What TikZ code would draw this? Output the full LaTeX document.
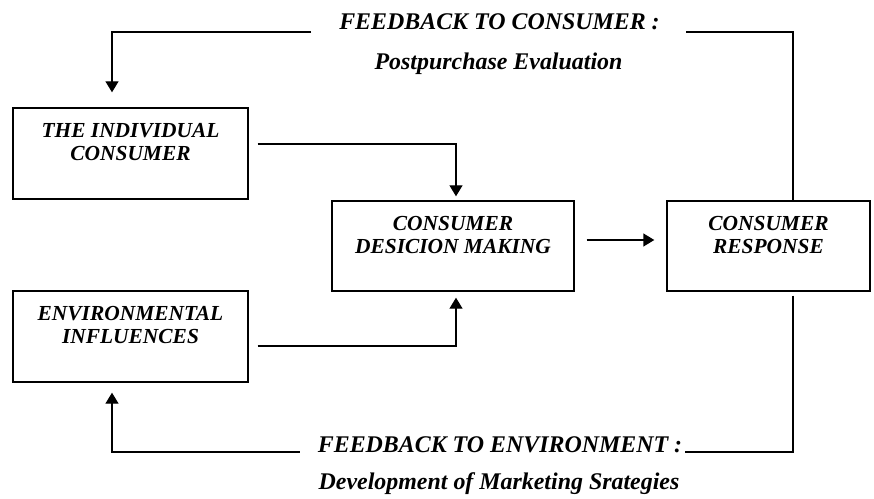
\documentclass[tikz,border=0pt]{standalone}
\usepackage{fontspec}
\setmainfont{Liberation Serif}
\usetikzlibrary{arrows.meta,calc,positioning}

\begin{document}
\begin{tikzpicture}[x=1bp,y=-1bp,
    box/.style={draw,line width=1.4bp,inner sep=0pt},
    boxtext/.style={font=\fontsize{21.5}{23}\selectfont\bfseries\itshape,align=center,anchor=north,inner sep=0pt},
    fbtext/.style={font=\fontsize{24}{28}\selectfont\bfseries\itshape,anchor=base,inner sep=0pt},
    line/.style={line width=1.4bp},
    conn/.style={line width=1.4bp,-{Triangle[length=11bp,width=13bp]}}]
  \useasboundingbox (0,0) rectangle (874,499);
  % boxes
  \node[box,minimum width=235bp,minimum height=91bp] (ind) at (130.5,153.5) {};
  \node[box,minimum width=235bp,minimum height=91bp] (env) at (130.5,336.5) {};
  \node[box,minimum width=242bp,minimum height=90bp] (dec) at (453,246) {};
  \node[box,minimum width=203bp,minimum height=90bp] (resp) at (768.5,246) {};
  \node[boxtext] (indtext) at ([yshift=-16bp]ind.north) {THE INDIVIDUAL\\CONSUMER};
  \node[boxtext] (envtext) at ([yshift=-16bp]env.north) {ENVIRONMENTAL\\INFLUENCES};
  \node[boxtext] (dectext) at ([yshift=-16bp]dec.north) {CONSUMER\\DESICION MAKING};
  \node[boxtext] (resptext) at ([yshift=-16bp]resp.north) {CONSUMER\\RESPONSE};
  % feedback labels
  \node[fbtext] (fbc) at (499.5,30) {FEEDBACK TO CONSUMER :};
  \node[fbtext] (post) at (498.5,70) {Postpurchase Evaluation};
  \node[fbtext] (fbe) at (500,452) {FEEDBACK TO ENVIRONMENT :};
  \node[fbtext] (dev) at (499,489) {Development of Marketing Srategies};
  % connectors
  \draw[conn] ($(ind.east)+(9,-9.5)$) -| ($(dec.north)+(3,-4)$);
  \draw[conn] ($(env.east)+(9,9.5)$) -| ($(dec.south)+(3,6)$);
  \draw[conn] ($(dec.east)+(12,-6)$) -- ($(resp.west)+(-12,-6)$);
  \draw[line] ($(resp.north)+(24.5,0)$) |- ($(fbc.base east)+(26,2)$);
  \draw[conn] ($(fbc.base west)+(-28,2)$) -| ($(ind.north)+(-18.5,-15)$);
  \draw[line] ($(resp.south)+(24.5,4)$) |- ($(fbe.base east)+(3,0)$);
  \draw[conn] ($(fbe.base west)+(-18,0)$) -| ($(env.south)+(-18.5,10)$);
\end{tikzpicture}
\end{document}
